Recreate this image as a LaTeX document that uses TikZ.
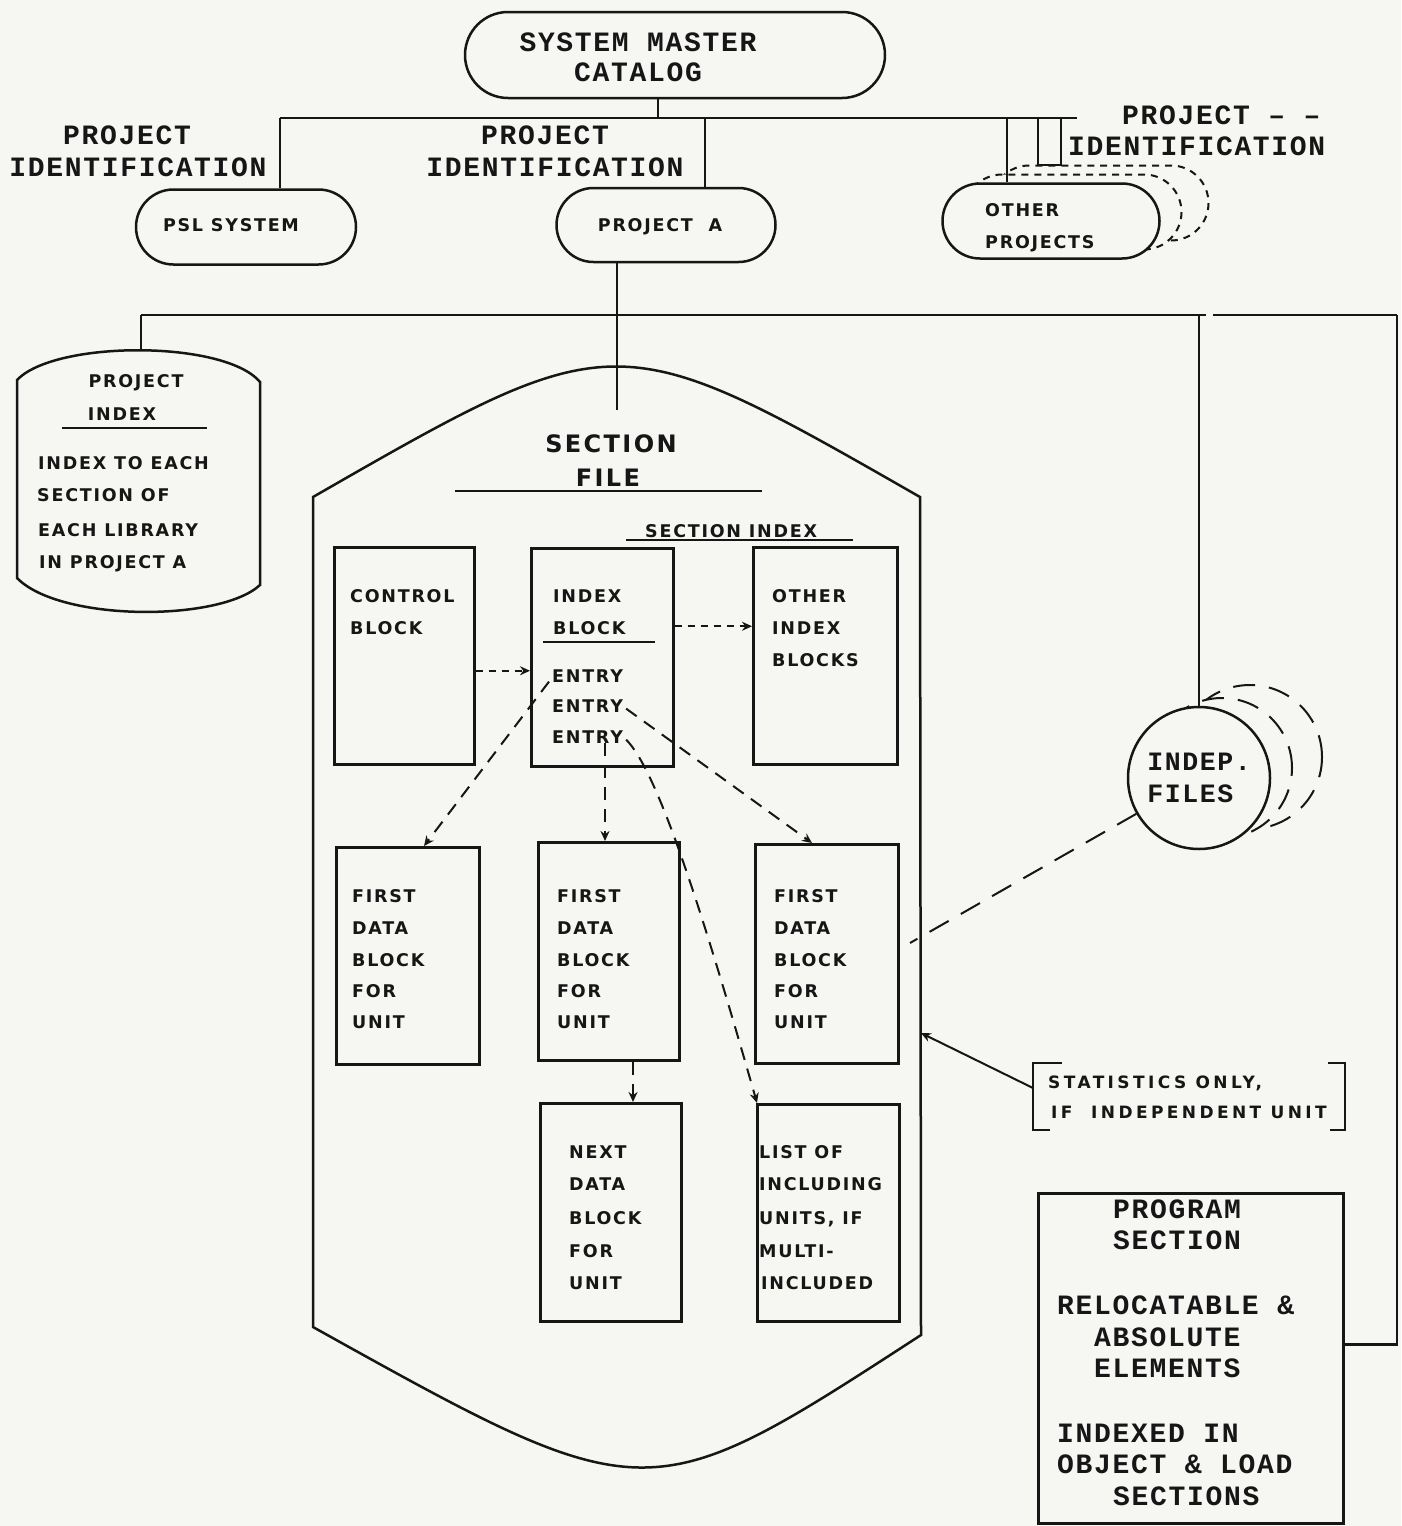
\documentclass[tikz,border=0pt]{standalone}
\usepackage{fontspec}
\usetikzlibrary{shapes.misc,arrows.meta}
\newfontfamily\twfont[LetterSpace=6]{Liberation Mono}
\newfontfamily\ltfont[LetterSpace=10]{DejaVu Sans}
\newfontfamily\ltwide[LetterSpace=20]{DejaVu Sans}
\definecolor{paper}{RGB}{246,246,243}
\definecolor{ink}{RGB}{22,22,22}
\tikzset{
  ln/.style={draw=ink, line width=2.5pt},
  dl/.style={draw=ink, line width=2pt, dash pattern=on 13pt off 9pt},
  dshort/.style={draw=ink, line width=2pt, dash pattern=on 7pt off 6pt},
  dlong/.style={draw=ink, line width=2pt, dash pattern=on 22pt off 14pt},
  tipA/.style={-{Stealth[length=10pt,width=9pt]}},
  tw/.style={text=ink, inner sep=0pt, font=\fontsize{28}{32}\twfont\bfseries},
  lt/.style={text=ink, inner sep=0pt, font=\fontsize{17.5}{22}\ltfont\bfseries},
  ltsm/.style={text=ink, inner sep=0pt, font=\fontsize{17}{22}\ltwide\bfseries},
  ltbig/.style={text=ink, inner sep=0pt, font=\fontsize{24}{28}\ltfont\bfseries},
  stad/.style={ln, rounded rectangle, fill=paper, inner sep=0pt},
  blk/.style={ln, inner sep=0pt, anchor=north west},
}
\begin{document}
\begin{tikzpicture}[x=1pt,y=-1pt]
\fill[paper] (0,0) rectangle (1401,1526);
\useasboundingbox (0,0) rectangle (1401,1526);

% ---------- top level ----------
\node[stad, minimum width=420pt, minimum height=86pt] (cat) at (675,55) {};
\node[tw, anchor=base] (catA) at (638,51) {SYSTEM MASTER};
\node[tw, anchor=base] (catB) at (638,81) {CATALOG};

\node[stad, minimum width=220pt, minimum height=75pt] (psl) at (246,227) {};
\node[lt, anchor=base] (pslT) at (231,231) {PSL SYSTEM};
\node[stad, minimum width=219pt, minimum height=74pt] (pa) at (666,225) {};
\node[lt, anchor=base] (paT) at (660,231) {PROJECT\ \ A};

\node[stad, dshort, minimum width=217pt, minimum height=75pt] (op2) at (1100,203) {};
\node[stad, dshort, minimum width=217pt, minimum height=75pt] (op1) at (1073,212) {};
\node[stad, minimum width=217pt, minimum height=75pt] (op) at (1051,221) {};
\node[lt, anchor=base west] (opA) at (985,216) {OTHER};
\node[lt, anchor=base west] (opB) at (985,248) {PROJECTS};

\node[tw, anchor=base] (l1a) at (127,144) {PROJECT};
\node[tw, anchor=base] (l1b) at (138,176) {IDENTIFICATION};
\node[tw, anchor=base] (l2a) at (545,144) {PROJECT};
\node[tw, anchor=base] (l2b) at (555,176) {IDENTIFICATION};
\node[tw, anchor=base west] (l3a) at (1122,124) {PROJECT – –};
\node[tw, anchor=base west] (l3b) at (1068,155) {IDENTIFICATION};

\coordinate (busL) at (280,118);
\coordinate (busR) at (1077,118);
\coordinate (catj) at (658,118);
\coordinate (paj) at (705,118);
\coordinate (opj) at (1007,118);
\draw[ln] (busL) -- (busR);
\draw[ln] (busL) -- (busL |- psl.north);
\draw[ln] (catj) -- (catj |- cat.south);
\draw[ln] (paj) -- (paj |- pa.north);
\draw[ln] (opj) -- (opj |- op.north);
\draw[ln] (1038,118) -- (1038,165) -- (1061,165) -- (1061,118);

% ---------- second level ----------
\coordinate (b2L) at (141,315);
\coordinate (b2R) at (1397,315);
\coordinate (pitop) at (141,350);
\coordinate (sftop) at (617,410);
\draw[ln] (b2L) -- (1206,315);
\draw[ln] (1213,315) -- (b2R);
\draw[ln] (b2L) -- (pitop);
\draw[ln] (sftop |- pa.south) -- (sftop);

% project index
\draw[ln, fill=paper] (17,380) .. controls (55,340) and (225,340) .. (260,382) -- (260,585)
   .. controls (220,622) and (60,622) .. (17,578) -- cycle;
\node[lt, anchor=base] (piA) at (136,387) {PROJECT};
\node[lt, anchor=base] (piB) at (122,420) {INDEX};
\draw[ln] (62,428) -- (207,428);
\node[lt, anchor=base west] (pi1) at (38,469) {INDEX TO EACH};
\node[lt, anchor=base west] (pi2) at (37,501) {SECTION OF};
\node[lt, anchor=base west] (pi3) at (38,536) {EACH LIBRARY};
\node[lt, anchor=base west] (pi4) at (39,568) {IN PROJECT A};

% section file
\draw[ln] (313,497) -- (313,1327) .. controls (647,1513) .. (921,1335) -- (920,497)
   .. controls (616,323) .. cycle;
\node[ltbig, anchor=base] (sfA) at (611,452) {SECTION};
\node[ltbig, anchor=base] (sfB) at (608,486) {FILE};
\draw[ln] (455,491) -- (762,491);
\node[lt, anchor=base west] (siT) at (645,537) {SECTION INDEX};
\draw[ln] (626,540) -- (853,540);

% blocks
\node[blk, minimum width=140pt, minimum height=217pt] (cb) at (333,546) {};
\node[blk, minimum width=142pt, minimum height=218pt] (ib) at (530,547) {};
\node[blk, minimum width=144pt, minimum height=217pt] (ob) at (752,546) {};
\node[blk, minimum width=143pt, minimum height=217pt] (f1) at (335,846) {};
\node[blk, minimum width=141pt, minimum height=218pt] (f2) at (537,841) {};
\node[blk, minimum width=143pt, minimum height=219pt] (f3) at (754,843) {};
\node[blk, minimum width=141pt, minimum height=218pt] (nd) at (539,1102) {};
\node[blk, minimum width=142pt, minimum height=217pt] (lu) at (756,1103) {};

\node[lt, anchor=base west] at (350,602) {CONTROL};
\node[lt, anchor=base west] at (350,634) {BLOCK};

\node[lt, anchor=base west] at (553,602) {INDEX};
\node[lt, anchor=base west] at (553,634) {BLOCK};
\draw[ln] (543,642) -- (655,642);
\node[lt, anchor=base west] (en1) at (552,682) {ENTRY};
\node[lt, anchor=base west] (en2) at (552,712) {ENTRY};
\node[lt, anchor=base west] (en3) at (552,743) {ENTRY};

\node[lt, anchor=base west] at (772,602) {OTHER};
\node[lt, anchor=base west] at (772,634) {INDEX};
\node[lt, anchor=base west] at (772,666) {BLOCKS};

\foreach \bx in {352,557,774}{
  \node[lt, anchor=base west] at (\bx,902) {FIRST};
  \node[lt, anchor=base west] at (\bx,934) {DATA};
  \node[lt, anchor=base west] at (\bx,966) {BLOCK};
  \node[lt, anchor=base west] at (\bx,997) {FOR};
  \node[lt, anchor=base west] at (\bx,1028) {UNIT};
}
\node[lt, anchor=base west] at (569,1158) {NEXT};
\node[lt, anchor=base west] at (569,1190) {DATA};
\node[lt, anchor=base west] at (569,1224) {BLOCK};
\node[lt, anchor=base west] at (569,1257) {FOR};
\node[lt, anchor=base west] at (569,1289) {UNIT};

\node[lt, anchor=base west] at (759,1158) {LIST OF};
\node[lt, anchor=base west] at (759,1190) {INCLUDING};
\node[lt, anchor=base west] at (759,1224) {UNITS, IF};
\node[lt, anchor=base west] at (759,1257) {MULTI-};
\node[lt, anchor=base west] at (761,1289) {INCLUDED};

% block arrows
\coordinate (c1) at ([yshift=-15pt]cb.east);
\draw[dshort, tipA] (c1) -- (c1 -| ib.west);
\coordinate (c2) at ([yshift=31pt]ib.east);
\draw[dshort, tipA] (c2) -- (c2 -| ob.west);
\coordinate (f1in) at ([xshift=89pt]f1.north west);
\draw[dl, tipA] ([xshift=-3pt,yshift=-6pt]en1.west) -- (f1in);
\coordinate (f2in) at ([xshift=68pt]f2.north west);
\draw[dl, tipA] (f2in |- en3.south) -- (f2in);
\coordinate (f3in) at ([xshift=58pt]f3.north west);
\draw[dl, tipA] ([xshift=3pt,yshift=-3pt]en2.east) -- (f3in);
\coordinate (luin) at ([xshift=1pt]lu.north west);
\draw[dl, tipA] ([xshift=3pt,yshift=-3pt]en3.east) .. controls +(30,30) and +(-59,-207) .. (luin);
\coordinate (ndin) at ([xshift=94pt]nd.north west);
\draw[dl, tipA] (ndin |- f2.south) -- (ndin);

% independent files
\node[circle, dlong, fill=paper, minimum size=144pt] (ind2) at (1250,757) {};
\node[circle, dlong, fill=paper, minimum size=140pt] (ind1) at (1222,768) {};
\node[circle, ln, fill=paper, minimum size=142pt, inner sep=0pt, align=left,
      text=ink, font=\fontsize{26.5}{32}\twfont\bfseries] (indep) at (1199,778) {INDEP.\\FILES};
\draw[ln] (indep.north) -- (indep.north |- b2L);
\coordinate (f3wall) at (910,943);
\draw[dlong] (indep) -- (f3wall);

% statistics note
\coordinate (sfwall) at (921,1033);
\coordinate (statj) at (1033,1088);
\draw[ln] (1062,1063) -- (1033,1063) -- (1033,1130) -- (1050,1130);
\draw[ln] (1328,1063) -- (1345,1063) -- (1345,1130) -- (1330,1130);
\node[ltsm, anchor=base west] (st1) at (1048,1088) {STATISTICS ONLY,};
\node[ltsm, anchor=base west] (st2) at (1051,1118) {IF\ \ INDEPENDENT UNIT};
\draw[ln, line width=2pt, tipA] (statj) -- (sfwall);

% program section
\node[blk, minimum width=305pt, minimum height=330pt] (ps) at (1037,1192) {};
\node[tw, anchor=base west] at (1113,1218) {PROGRAM};
\node[tw, anchor=base west] at (1113,1249) {SECTION};
\node[tw, anchor=base west] at (1057,1314) {RELOCATABLE \&};
\node[tw, anchor=base west] at (1094,1346) {ABSOLUTE};
\node[tw, anchor=base west] at (1094,1377) {ELEMENTS};
\node[tw, anchor=base west] at (1057,1442) {INDEXED IN};
\node[tw, anchor=base west] at (1057,1473) {OBJECT \& LOAD};
\node[tw, anchor=base west] at (1113,1505) {SECTIONS};
\coordinate (psj) at ([yshift=14pt]ps.east);
\draw[ln] (b2R) -- (b2R |- psj) -- (psj);
\end{tikzpicture}
\end{document}
